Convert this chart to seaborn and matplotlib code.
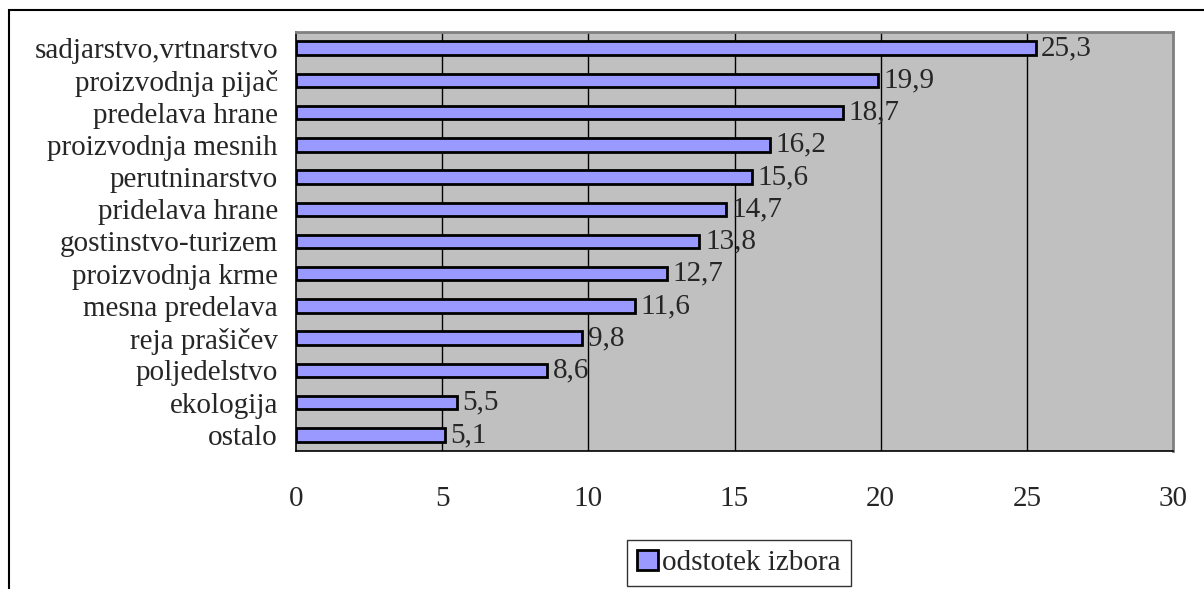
import matplotlib
matplotlib.use("Agg")
import matplotlib.pyplot as plt
import seaborn as sns
import pandas as pd
from matplotlib.patches import Rectangle, Patch

categories = ["sadjarstvo,vrtnarstvo", "proizvodnja pijač", "predelava hrane",
              "proizvodnja mesnih", "perutninarstvo", "pridelava hrane",
              "gostinstvo-turizem", "proizvodnja krme", "mesna predelava",
              "reja prašičev", "poljedelstvo", "ekologija", "ostalo"]
values = [25.3, 19.9, 18.7, 16.2, 15.6, 14.7, 13.8, 12.7, 11.6, 9.8, 8.6, 5.5, 5.1]
x_ticks = [0, 5, 10, 15, 20, 25, 30]
series_name = "odstotek izbora"

sns.set_style("white")
plt.rcParams['font.family'] = ['Liberation Serif', 'DejaVu Serif']
FS = 21
plt.rcParams['font.size'] = FS

W, H = 1204, 589
fig = plt.figure(figsize=(W / 100, H / 100), dpi=100)
L, R, T, B = 296, 1173, 32, 451
ax = fig.add_axes([L / W, 1 - B / H, (R - L) / W, (B - T) / H])

df = pd.DataFrame({"cat": categories, "val": values})
sns.barplot(data=df, y="cat", x="val", orient="h", color="#9999FF",
            edgecolor="black", linewidth=2, width=0.42, saturation=1, ax=ax)

ax.set_facecolor("#C0C0C0")
ax.set_xlim(0, 30)
ax.set_ylim(len(categories) - 0.5, -0.5)
ax.set_xticks(x_ticks)
ax.set_xticklabels([str(t) for t in x_ticks])
ax.set_xlabel("")
ax.set_ylabel("")
for t in x_ticks[1:-1]:
    ax.axvline(t, color="black", lw=1, zorder=0.5)
ax.set_axisbelow(True)

ax.set_yticks(range(len(categories)))
ax.set_yticklabels(categories, fontsize=FS)
ax.set_yticks([i - 0.5 for i in range(len(categories) + 1)], minor=True)
ax.tick_params(axis="y", which="major", length=0, pad=13)
ax.tick_params(axis="y", which="minor", length=9, width=1, color="black", direction="out")
ax.tick_params(axis="x", which="major", length=9, width=1, color="black",
               direction="out", pad=16, labelsize=FS)

for side in ["top", "right"]:
    ax.spines[side].set_color("#808080")
    ax.spines[side].set_linewidth(2)
for side in ["left", "bottom"]:
    ax.spines[side].set_color("black")
    ax.spines[side].set_linewidth(1.2)
for side in ["top", "right", "left", "bottom"]:
    ax.spines[side].set_visible(True)

labels = [f"{v:.1f}".replace(".", ",") for v in values]
ax.bar_label(ax.containers[0], labels=labels, padding=4, fontsize=FS)

handle = Patch(facecolor="#9999FF", edgecolor="black", linewidth=2)
leg = fig.legend([handle], [series_name], loc="center",
                 bbox_to_anchor=(739 / W, 1 - 563 / H), frameon=True,
                 fancybox=False, handlelength=0.7, handleheight=0.7,
                 handletextpad=0.15, borderpad=0.35, borderaxespad=0, fontsize=FS)
leg.get_frame().set_edgecolor("black")
leg.get_frame().set_linewidth(1)

fig.patches.append(Rectangle((9 / W, -0.1), 1.2, 1 - 10 / H + 0.1,
                             transform=fig.transFigure, fill=False,
                             edgecolor="black", lw=1.5, clip_on=False))

fig.savefig("out.png", dpi=100)
